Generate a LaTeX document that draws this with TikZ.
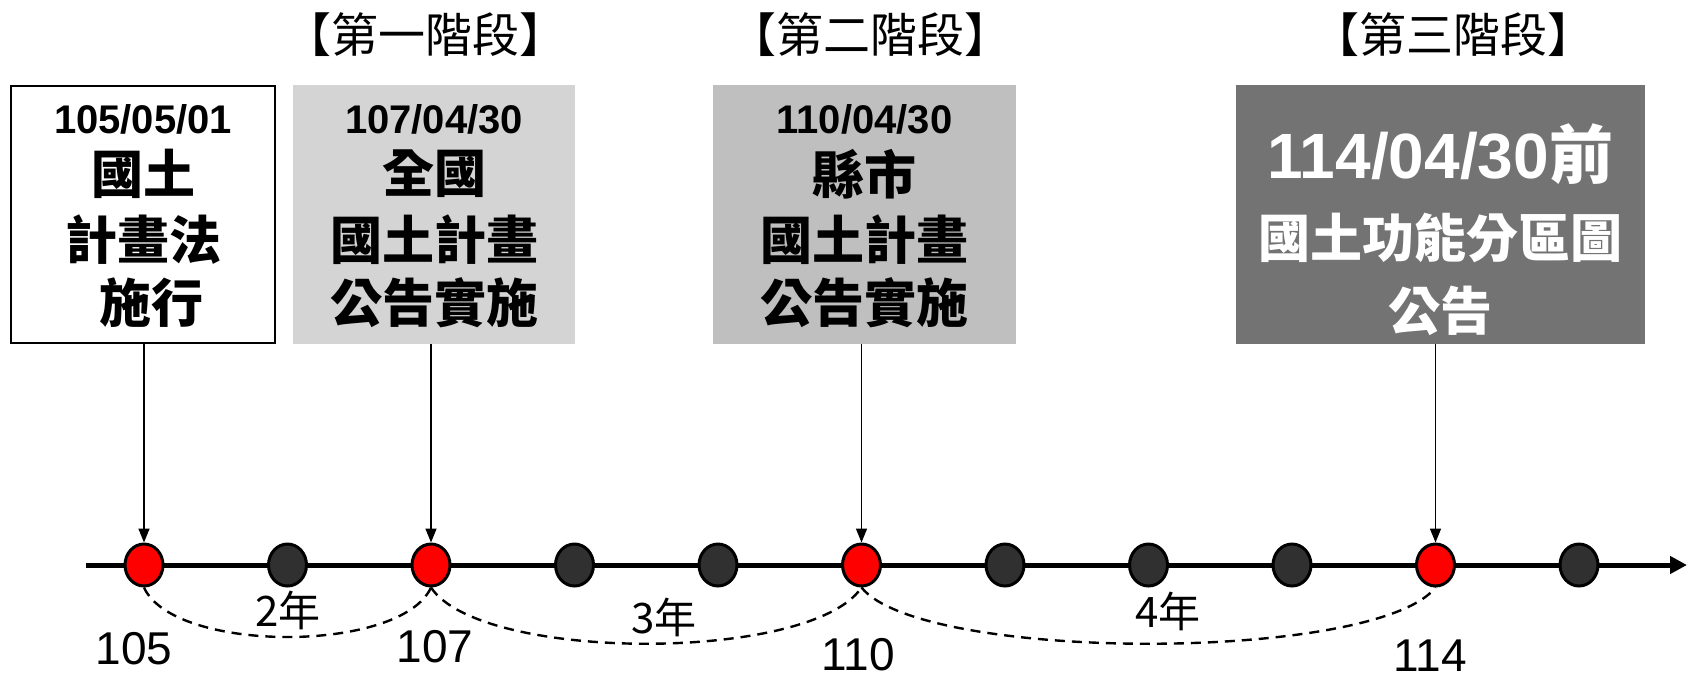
\documentclass[tikz,border=0pt]{standalone}
\usepackage{fontspec}
\setmainfont{Liberation Sans}
\newfontfamily\cjk{Noto Sans CJK TC}
\usetikzlibrary{arrows.meta,shapes.geometric}
\definecolor{boxA}{RGB}{212,212,212}
\definecolor{boxB}{RGB}{191,191,191}
\definecolor{boxC}{RGB}{115,115,115}
\definecolor{dotgray}{RGB}{48,48,48}
\definecolor{dotred}{RGB}{255,0,0}
\begin{document}
\begin{tikzpicture}[x=1pt,y=-1pt,
  box/.style={rectangle, inner sep=0pt, minimum height=259pt},
  dot/.style={ellipse, draw=black, line width=3pt, minimum width=38pt, minimum height=42pt, inner sep=0pt},
  reddot/.style={dot, fill=dotred},
  graydot/.style={dot, fill=dotgray},
  datetxt/.style={font=\fontsize{40}{48}\selectfont\bfseries, inner sep=0pt},
  cjktxt/.style={font=\cjk\fontsize{52}{60}\selectfont\bfseries, inner sep=0pt},
  stagetxt/.style={font=\cjk\fontsize{47}{52}\selectfont, inner sep=0pt},
  numtxt/.style={font=\fontsize{46}{52}\selectfont, inner sep=0pt},
  yeartxt/.style={font=\cjk\fontsize{42}{48}\selectfont, inner sep=0pt},
  pointer/.style={line width=1.6pt, -{Triangle[length=14pt,width=11pt]}},
  span/.style={line width=2.4pt, dash pattern=on 10pt off 7pt}
]
\path[use as bounding box, fill=white] (0,0) rectangle (1688,681);

% stage labels
\node[stagetxt] (s1) at (425,35) {【第一階段】};
\node[stagetxt] (s2) at (870,35) {【第二階段】};
\node[stagetxt] (s3) at (1453,35) {【第三階段】};

% boxes
\node[box, draw=black, line width=2pt, fill=white, minimum width=264pt, minimum height=257pt] (b1) at (143,214.5) {};
\node[box, fill=boxA, minimum width=282pt] (b2) at (434,214.5) {};
\node[box, fill=boxB, minimum width=303pt] (b3) at (864.5,214.5) {};
\node[box, fill=boxC, minimum width=409pt] (b4) at (1440.5,214.5) {};

% box texts
\node[datetxt] (t1a) at (143,119) {105/05/01};
\node[cjktxt] (t1b) at (143,174) {國土};
\node[cjktxt] (t1c) at (143,240) {計畫法};
\node[cjktxt] (t1d) at (151,303) {施行};

\node[datetxt] (t2a) at (434,119) {107/04/30};
\node[cjktxt] (t2b) at (434,174) {全國};
\node[cjktxt] (t2c) at (434,240) {國土計畫};
\node[cjktxt] (t2d) at (434,303) {公告實施};

\node[datetxt] (t3a) at (864.5,119) {110/04/30};
\node[cjktxt] (t3b) at (864.5,174) {縣市};
\node[cjktxt] (t3c) at (864.5,240) {國土計畫};
\node[cjktxt] (t3d) at (864.5,303) {公告實施};

\node[inner sep=0pt, text=white, font=\fontsize{64}{70}\selectfont\bfseries] (t4a) at (1440.5,154) {114/04/30{\cjk 前}};
\node[cjktxt, text=white] (t4b) at (1440.5,238) {國土功能分區圖};
\node[cjktxt, text=white] (t4c) at (1440.5,311) {公告};

% axis
\coordinate (axs) at (86,565);
\coordinate (axe) at (1687,565);
\draw[line width=5pt, -{Triangle[length=17pt,width=17pt]}] (axs) -- (axe);

% dots
\node[reddot]  (c0)  at (144,565) {};
\node[graydot] (c1)  at (287.5,565) {};
\node[reddot]  (c2)  at (431,565) {};
\node[graydot] (c3)  at (574.5,565) {};
\node[graydot] (c4)  at (718,565) {};
\node[reddot]  (c5)  at (861.5,565) {};
\node[graydot] (c6)  at (1005,565) {};
\node[graydot] (c7)  at (1148.5,565) {};
\node[graydot] (c8)  at (1292,565) {};
\node[reddot]  (c9)  at (1435.5,565) {};
\node[graydot] (c10) at (1579,565) {};

% pointers
\draw[pointer] (b1.south -| c0) -- (c0.north);
\draw[pointer] (b2.south -| c2) -- (c2.north);
\draw[pointer] (b3.south -| c5) -- (c5.north);
\draw[pointer] (b4.south -| c9) -- (c9.north);

% dashed spans
\draw[span] (c0.south) .. controls +(30,66) and +(-30,66) .. (c2.south);
\draw[span] (c2.south) .. controls +(50,75) and +(-50,75) .. (c5.south);
\draw[span] (c5.south) .. controls +(60,75) and +(-60,75) .. (c9.south);

% year labels
\node[yeartxt] (y1) at (288,610) {2年};
\node[yeartxt] (y2) at (664,617) {3年};
\node[yeartxt] (y3) at (1168,611) {4年};

% numbers
\node[numtxt] (n1) at (134,649) {105};
\node[numtxt] (n2) at (435,647) {107};
\node[numtxt] (n3) at (858,655) {110};
\node[numtxt] (n4) at (1430,656) {114};
\end{tikzpicture}
\end{document}
